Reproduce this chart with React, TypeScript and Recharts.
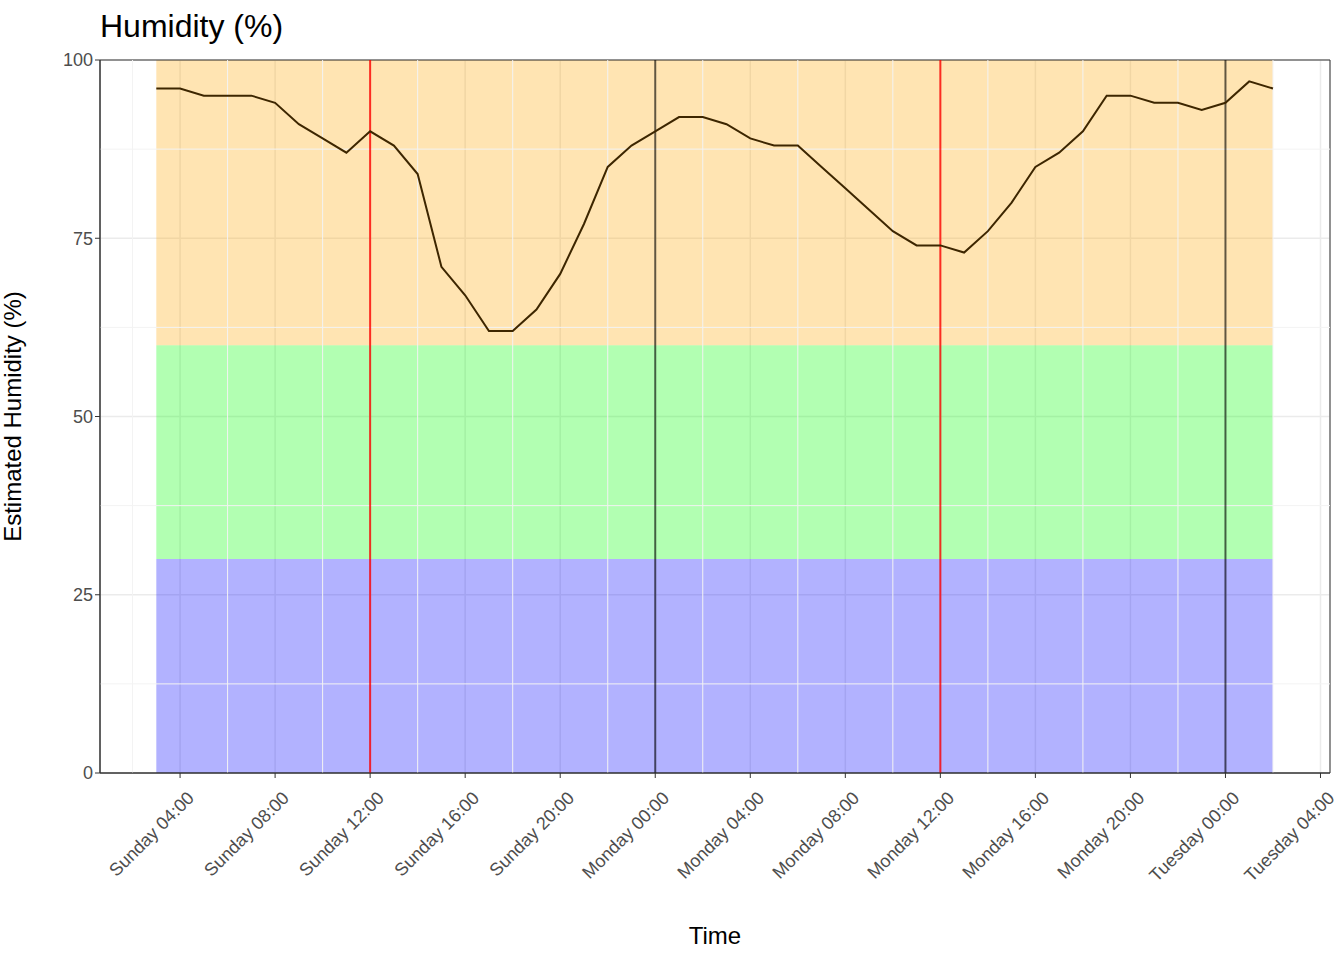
import React from 'react';
import { ComposedChart, Line, XAxis, YAxis, CartesianGrid, ReferenceArea, ReferenceLine } from 'recharts';

// hours since Sunday 00:00
const hours = [3,4,5,6,7,8,9,10,11,12,13,14,15,16,17,18,19,20,21,22,23,24,25,26,27,28,29,30,31,32,33,34,35,36,37,38,39,40,41,42,43,44,45,46,47,48,49,50];
const humidity = [96,96,95,95,95,94,91,89,87,90,88,84,71,67,62,62,65,70,77,85,88,90,92,92,91,89,88,88,85,82,79,76,74,74,73,76,80,85,87,90,95,95,94,94,93,94,97,96];
const xTicks = [4,8,12,16,20,24,28,32,36,40,44,48,52];
const xTickLabels = ['Sunday 04:00','Sunday 08:00','Sunday 12:00','Sunday 16:00','Sunday 20:00','Monday 00:00','Monday 04:00','Monday 08:00','Monday 12:00','Monday 16:00','Monday 20:00','Tuesday 00:00','Tuesday 04:00'];
const yTicks = [0,25,50,75,100];
const xMinor = [2,6,10,14,18,22,26,30,34,38,42,46,50];
const yMinor = [12.5,37.5,62.5,87.5];
const redLines = [12,36];
const darkLines = [24,48];

const data = hours.map((h, i) => ({ h, v: humidity[i] }));
const X0 = 0.63, X1 = 52.4;
const font = '"Liberation Sans", Arial, sans-serif';

const XTick = (p: any) => {
  const i = xTicks.indexOf(p.payload.value);
  return (
    <text x={p.x + 6} y={p.y + 10} transform={`rotate(-45 ${p.x + 6} ${p.y + 10})`} textAnchor="end" dominantBaseline="hanging"
      fontSize={18} fill="#4d4d4d" fontFamily={font}>{xTickLabels[i]}</text>
  );
};

export default function App() {
  return (
    <div style={{ position: 'absolute', left: 0, top: 0, width: 1344, height: 960, background: '#fff', fontFamily: font }}>
      <div style={{ position: 'absolute', left: 100, top: 8, fontSize: 32, color: '#000' }}>Humidity (%)</div>
      <ComposedChart width={1344} height={960} data={data} margin={{ top: 60, right: 14, bottom: 0, left: 0 }}>
        <CartesianGrid stroke="#ebebeb" strokeWidth={1.5} />
        {xMinor.map(x => <ReferenceLine key={'mx' + x} x={x} stroke="#f3f3f3" strokeWidth={1} />)}
        {yMinor.map(y => <ReferenceLine key={'my' + y} y={y} stroke="#f3f3f3" strokeWidth={1} />)}
        <XAxis dataKey="h" type="number" domain={[X0, X1]} ticks={xTicks} allowDataOverflow height={187}
          tick={<XTick />} tickLine={{ stroke: '#333' }} axisLine={{ stroke: '#333' }} tickSize={5}
          label={{ value: 'Time', position: 'insideBottom', offset: 16, fontSize: 24, fill: '#000', fontFamily: font }} />
        <YAxis type="number" domain={[0, 100]} ticks={yTicks} width={100} tickSize={5}
          tick={{ fontSize: 18, fill: '#4d4d4d', fontFamily: font }} tickLine={{ stroke: '#333' }} axisLine={{ stroke: '#333' }}
          label={{ value: 'Estimated Humidity (%)', angle: -90, position: 'insideLeft', offset: 12, dy: 0, fontSize: 24, fill: '#000', fontFamily: font, style: { textAnchor: 'middle' } }} />
        <ReferenceArea x1={3} x2={50} y1={0} y2={30} fill="#0000ff" fillOpacity={0.3} stroke="none" />
        <ReferenceArea x1={3} x2={50} y1={30} y2={60} fill="#00ff00" fillOpacity={0.3} stroke="none" />
        <ReferenceArea x1={3} x2={50} y1={60} y2={100} fill="#ffa500" fillOpacity={0.3} stroke="none" />
        {redLines.map(x => <ReferenceLine key={'r' + x} x={x} stroke="#ff0000" strokeOpacity={0.8} strokeWidth={2} />)}
        {darkLines.map(x => <ReferenceLine key={'d' + x} x={x} stroke="#000000" strokeOpacity={0.6} strokeWidth={2} />)}
        <Line dataKey="v" type="linear" stroke="#3d2600" strokeWidth={2} dot={false} isAnimationActive={false} />
        <ReferenceArea x1={X0} x2={X1} y1={0} y2={100} fill="none" stroke="#333" strokeWidth={1} ifOverflow="extendDomain" />
      </ComposedChart>
    </div>
  );
}
